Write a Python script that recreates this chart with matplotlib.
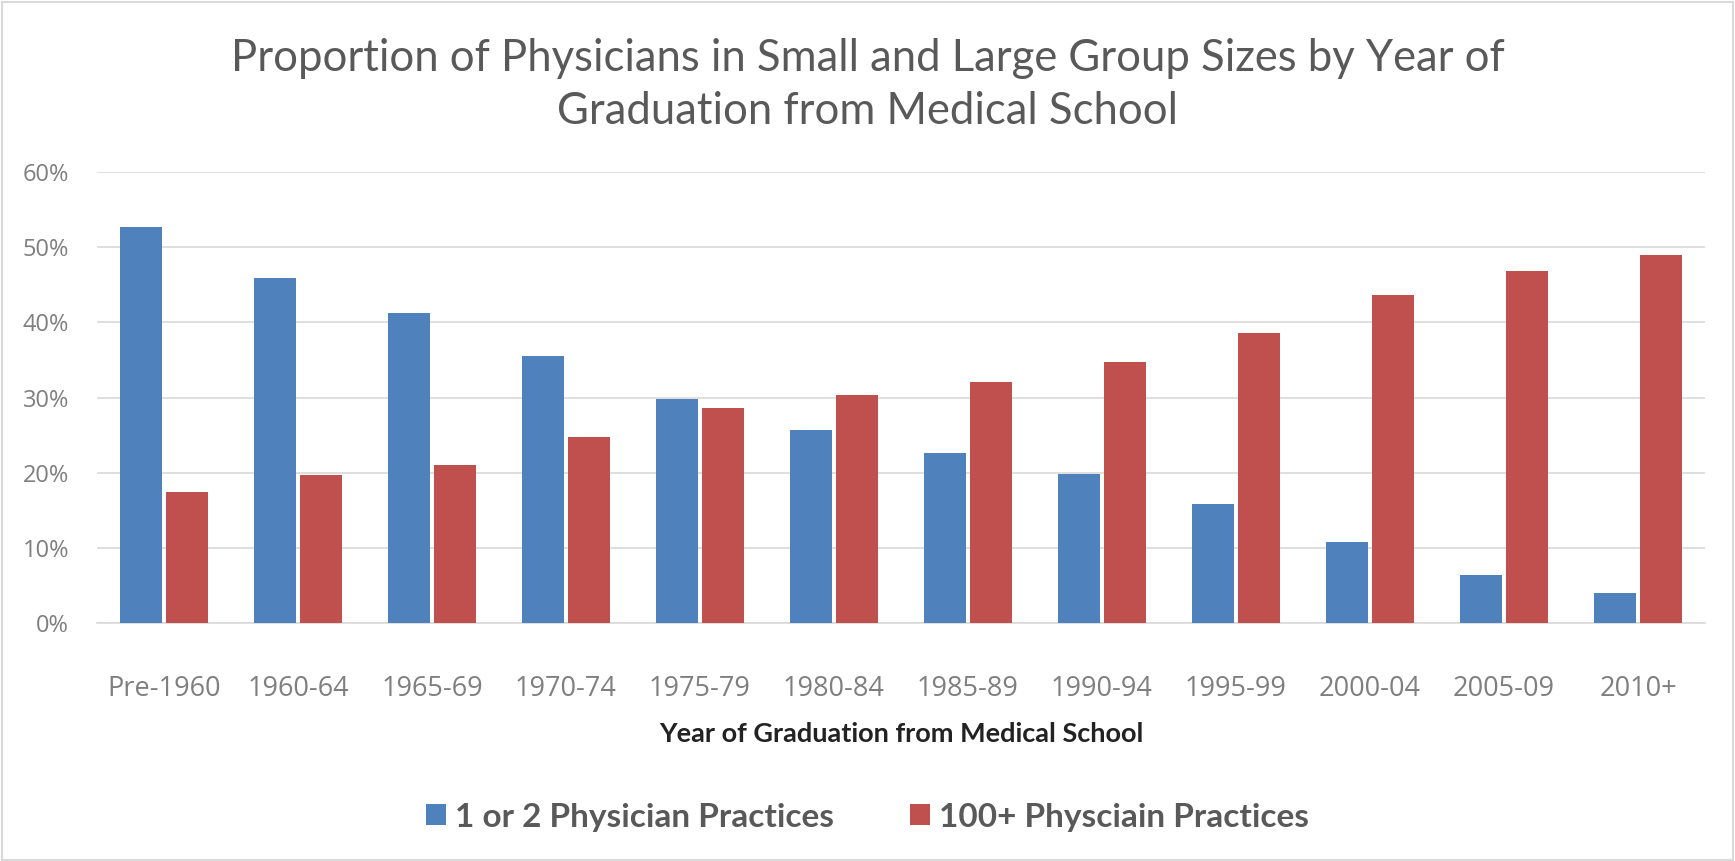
import numpy as np
import matplotlib.pyplot as plt
from matplotlib.ticker import PercentFormatter
from matplotlib.patches import Rectangle

categories = ['Pre-1960', '1960-64', '1965-69', '1970-74', '1975-79', '1980-84',
              '1985-89', '1990-94', '1995-99', '2000-04', '2005-09', '2010+']
small_practices = [52.7, 45.9, 41.2, 35.5, 29.8, 25.7, 22.6, 19.9, 15.9, 10.8, 6.4, 4.0]
large_practices = [17.5, 19.7, 21.0, 24.7, 28.6, 30.3, 32.0, 34.7, 38.6, 43.6, 46.8, 48.9]
series_names = ['1 or 2 Physician Practices', '100+ Physciain Practices']

BLUE = '#4F81BD'
RED = '#C0504D'
GRAY = '#7F7F7F'

fig = plt.figure(figsize=(17.35, 8.61), dpi=100)
fig.patch.set_facecolor('white')
fig.patches.append(Rectangle((0.001, 0.001), 0.998, 0.997, transform=fig.transFigure,
                             fill=False, edgecolor='#D9D9D9', linewidth=1.5))

ax = fig.add_axes([0.0559, 0.276, 0.9268, 0.5246])

x = np.arange(len(categories))
w = 0.31
ax.bar(x - 0.17, small_practices, width=w, color=BLUE, label=series_names[0], zorder=3)
ax.bar(x + 0.17, large_practices, width=w, color=RED, label=series_names[1], zorder=3)

ax.set_xlim(-0.5, len(categories) - 0.5)
ax.set_ylim(0, 60)
ax.set_yticks(np.arange(0, 61, 10))
ax.yaxis.set_major_formatter(PercentFormatter(decimals=0))
ax.grid(axis='y', color='#D9D9D9', linewidth=1.2, zorder=0)

for s in ['top', 'right', 'left']:
    ax.spines[s].set_visible(False)
ax.spines['bottom'].set_color('#D9D9D9')
ax.spines['bottom'].set_linewidth(1.2)

ax.set_xticks(x)
ax.set_xticklabels(categories, fontfamily='Open Sans', fontsize=19.5, color=GRAY)
ax.tick_params(axis='x', length=0, pad=37)
ax.tick_params(axis='y', length=0, pad=20, labelsize=17, labelcolor=GRAY)
for lab in ax.get_yticklabels():
    lab.set_fontfamily('Open Sans')

ax.set_xlabel('Year of Graduation from Medical School', fontfamily='Lato',
              fontweight='bold', fontsize=19.5, color='#222222', labelpad=14)

fig.text(0.5, 0.932, 'Proportion of Physicians in Small and Large Group Sizes by Year of',
         ha='center', va='center', fontfamily='Lato', fontsize=31.4, color='#595959')
fig.text(0.5, 0.871, 'Graduation from Medical School',
         ha='center', va='center', fontfamily='Lato', fontsize=31.4, color='#595959')

leg = fig.legend(loc='center', bbox_to_anchor=(0.5, 0.051), ncol=2, frameon=False,
                 handlelength=0.6, handleheight=0.6, handletextpad=0.25,
                 columnspacing=2.3, prop={'family': 'Lato', 'weight': 'bold', 'size': 24})
for t in leg.get_texts():
    t.set_color('#595959')

fig.savefig('out.png', dpi=100)
